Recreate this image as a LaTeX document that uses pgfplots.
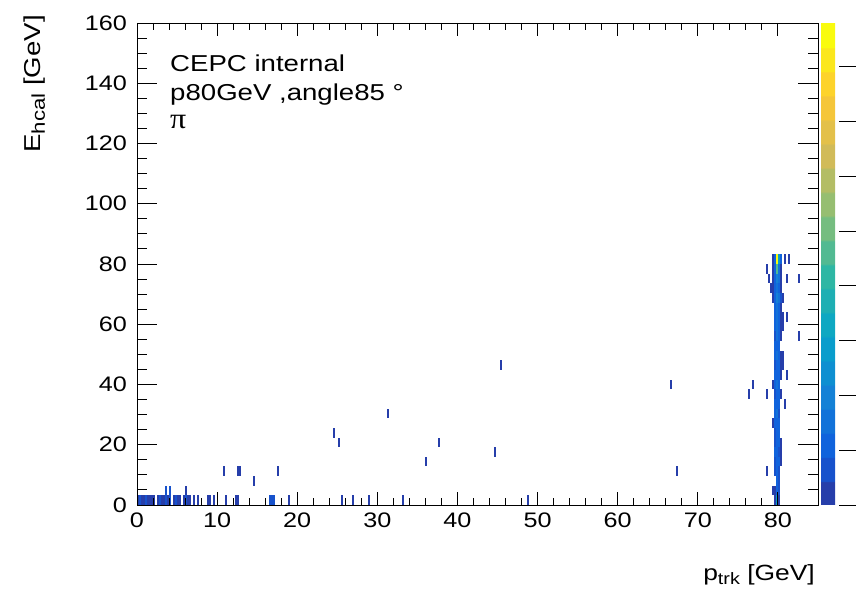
\documentclass[border=0pt]{standalone}
\usepackage{pgfplots}
\pgfplotsset{compat=1.18}
\usepackage{fontspec}
\setmainfont{Liberation Sans}[FakeStretch=1.2]
\newfontfamily\serifpi{Liberation Serif}[FakeStretch=1.1]
\newcommand{\sub}[1]{\raisebox{-0.4ex}{\fontsize{16.5}{20}\selectfont #1}}
\newcommand{\subb}[1]{\raisebox{-0.4ex}{\fontsize{18.5}{20}\selectfont #1}}
\pgfdeclareplotmark{bin}{\pgfpathrectangle{\pgfqpoint{-1pt}{-4.82pt}}{\pgfqpoint{2pt}{9.64pt}}\pgfusepathqfill}
\begin{document}
\begin{tikzpicture}
\useasboundingbox (0,0) rectangle (856pt,595pt);
\begin{axis}[
  at={(137pt,90pt)}, anchor=south west,
  scale only axis, width=681pt, height=482pt,
  xmin=0, xmax=85, ymin=0, ymax=160,
  xtick=\empty, ytick={0,20,...,160},
  minor y tick num=3,
  tick align=inside,
  major tick length=20pt, minor tick length=10pt,
  tick style={black, line width=0.9pt},
  axis line style={black, line width=0.9pt},
  axis on top,
  /pgf/number format/assume math mode=true,
  tick label style={font=\fontsize{21}{25}\selectfont},
  every y tick label/.style={anchor=east, inner sep=0pt},
  yticklabel shift=10pt,
  ylabel={E\subb{hcal} [GeV]},
  every axis y label/.style={at={(axis description cs:-0.1424,1.0166)}, anchor=base east, rotate=90, inner sep=0pt, font=\fontsize{23}{26}\selectfont},
  colormap={rootbird}{
    rgb(0pt)=(0.1486,0.2438,0.6649) rgb(9.5pt)=(0.1486,0.2438,0.6649)
    rgb(10pt)=(0.0890,0.3212,0.8006) rgb(19.5pt)=(0.0890,0.3212,0.8006)
    rgb(20pt)=(0.0630,0.3887,0.8624) rgb(29.5pt)=(0.0630,0.3887,0.8624)
    rgb(30pt)=(0.0705,0.4464,0.8505) rgb(39.5pt)=(0.0705,0.4464,0.8505)
    rgb(40pt)=(0.0780,0.5041,0.8385) rgb(49.5pt)=(0.0780,0.5041,0.8385)
    rgb(50pt)=(0.0561,0.5592,0.8197) rgb(59.5pt)=(0.0561,0.5592,0.8197)
    rgb(60pt)=(0.0342,0.6143,0.8008) rgb(69.5pt)=(0.0342,0.6143,0.8008)
    rgb(70pt)=(0.0546,0.6571,0.7616) rgb(79.5pt)=(0.0546,0.6571,0.7616)
    rgb(80pt)=(0.1174,0.6874,0.7021) rgb(89.5pt)=(0.1174,0.6874,0.7021)
    rgb(90pt)=(0.1802,0.7178,0.6425) rgb(99.5pt)=(0.1802,0.7178,0.6425)
    rgb(100pt)=(0.3202,0.7304,0.5720) rgb(109.5pt)=(0.3202,0.7304,0.5720)
    rgb(110pt)=(0.4601,0.7429,0.5015) rgb(119.5pt)=(0.4601,0.7429,0.5015)
    rgb(120pt)=(0.5878,0.7459,0.4429) rgb(129.5pt)=(0.5878,0.7459,0.4429)
    rgb(130pt)=(0.7032,0.7394,0.3964) rgb(139.5pt)=(0.7032,0.7394,0.3964)
    rgb(140pt)=(0.8186,0.7328,0.3499) rgb(149.5pt)=(0.8186,0.7328,0.3499)
    rgb(150pt)=(0.8894,0.7542,0.2887) rgb(159.5pt)=(0.8894,0.7542,0.2887)
    rgb(160pt)=(0.9602,0.7755,0.2274) rgb(169.5pt)=(0.9602,0.7755,0.2274)
    rgb(170pt)=(0.9918,0.8256,0.1682) rgb(179.5pt)=(0.9918,0.8256,0.1682)
    rgb(180pt)=(0.9841,0.9044,0.1111) rgb(189.5pt)=(0.9841,0.9044,0.1111)
    rgb(190pt)=(0.9764,0.9832,0.0539) rgb(200pt)=(0.9764,0.9832,0.0539)
  },
  point meta min=0, point meta max=44,
  colorbar,
  colorbar shift/.style={xshift=3pt},
  colorbar style={
    at={(parent axis.north east)}, anchor=north west,
    width=35pt,
    ytick={0,5,...,40}, yticklabels={},
    ytick pos=right, tick align=inside,
    major tick length=17pt,
    tick style={black, line width=0.9pt},
    axis line style={draw=none},
  },
]
\addplot[scatter, only marks, mark=bin, point meta=explicit] table[meta=c] {
x y c
45.375 46.4 1
31.375 30.4 1
24.625 24.0 1
25.25 20.8 1
37.75 20.8 1
36.125 14.4 1
44.625 17.6 1
10.875 11.2 1
12.625 11.2 2
12.875 11.2 1
17.625 11.2 1
14.625 8.0 1
66.625 40.0 1
76.875 40.0 1
76.375 36.8 1
78.625 36.8 1
67.375 11.2 1
78.625 11.2 1
80.875 33.6 1
81.125 43.2 1
82.625 75.2 1
82.625 56.0 1
81.125 62.4 1
78.625 78.4 1
78.875 75.2 1
81.125 75.2 1
80.875 81.6 1
81.375 81.6 1
79.375 81.6 2
79.625 81.6 6
79.875 81.6 43
80.125 81.6 14
80.375 81.6 5
79.375 78.4 2
79.625 78.4 5
79.875 78.4 22
80.125 78.4 8
80.375 78.4 2
79.375 75.2 1
79.625 75.2 6
79.875 75.2 9
80.125 75.2 7
80.375 75.2 2
79.125 72.0 1
79.375 72.0 2
79.625 72.0 6
79.875 72.0 8
80.125 72.0 6
80.375 72.0 2
79.375 68.8 2
79.625 68.8 5
79.875 68.8 9
80.125 68.8 7
80.375 68.8 3
80.625 68.8 1
79.625 65.6 5
79.875 65.6 8
80.125 65.6 6
80.375 65.6 2
79.625 62.4 6
79.875 62.4 7
80.125 62.4 5
80.375 62.4 2
80.625 62.4 2
79.625 59.2 5
79.875 59.2 8
80.125 59.2 6
80.375 59.2 2
80.625 59.2 1
79.625 56.0 4
79.875 56.0 7
80.125 56.0 6
80.375 56.0 2
79.625 52.8 5
79.875 52.8 6
80.125 52.8 5
79.625 49.6 5
79.875 49.6 7
80.125 49.6 5
80.375 49.6 2
80.625 49.6 1
79.625 46.4 4
79.875 46.4 6
80.125 46.4 6
80.375 46.4 2
80.625 46.4 1
79.625 43.2 5
79.875 43.2 6
80.125 43.2 5
80.375 43.2 1
79.375 40.0 1
79.625 40.0 5
79.875 40.0 7
80.125 40.0 5
79.625 36.8 4
79.875 36.8 6
80.125 36.8 5
80.375 36.8 1
79.625 33.6 5
79.875 33.6 6
80.125 33.6 5
79.625 30.4 5
79.875 30.4 7
80.125 30.4 4
79.375 27.2 1
79.625 27.2 5
79.875 27.2 6
80.125 27.2 5
79.625 24.0 3
79.875 24.0 6
80.125 24.0 5
79.625 20.8 4
79.875 20.8 6
80.125 20.8 5
80.375 20.8 2
79.625 17.6 5
79.875 17.6 6
80.125 17.6 4
80.375 17.6 1
79.625 14.4 4
79.875 14.4 5
80.125 14.4 5
80.375 14.4 1
79.625 11.2 4
79.875 11.2 6
80.125 11.2 4
79.875 8.0 5
80.125 8.0 4
79.375 4.8 1
79.625 4.8 2
79.875 4.8 5
80.125 4.8 4
79.625 1.6 2
79.875 1.6 14
80.125 1.6 1
3.625 4.8 3
4.125 4.8 3
6.125 4.8 1
0.125 1.6 2
0.375 1.6 3
0.625 1.6 1
0.875 1.6 2
1.125 1.6 3
1.375 1.6 2
1.625 1.6 1
1.875 1.6 2
2.125 1.6 1
2.625 1.6 2
2.875 1.6 3
3.125 1.6 2
3.375 1.6 1
3.625 1.6 3
3.875 1.6 2
4.125 1.6 3
4.625 1.6 2
4.875 1.6 3
5.125 1.6 2
5.375 1.6 1
5.875 1.6 2
6.125 1.6 3
6.375 1.6 1
6.625 1.6 2
7.125 1.6 1
7.625 1.6 1
8.875 1.6 2
9.125 1.6 1
9.625 1.6 1
11.125 1.6 1
12.375 1.6 1
12.625 1.6 2
16.625 1.6 3
16.875 1.6 3
17.125 1.6 3
19.0 1.6 1
25.625 1.6 1
27.0 1.6 1
29.0 1.6 1
33.25 1.6 1
48.75 1.6 1
};
\node[anchor=base west, inner sep=0pt, font=\fontsize{23}{28}\selectfont] at (rel axis cs:0.0485,0.900) {CEPC internal};
\node[anchor=base west, inner sep=0pt, font=\fontsize{23}{28}\selectfont] at (rel axis cs:0.0485,0.840) {p80GeV ,angle85 °};
\node[anchor=base west, inner sep=0pt, font=\fontsize{29}{32}\serifpi] at (rel axis cs:0.0485,0.782) {π};
\end{axis}
\begin{axis}[
  at={(137pt,90pt)}, anchor=south west,
  scale only axis, width=681pt, height=482pt,
  xmin=0, xmax=85, ymin=0, ymax=160,
  xtick={0,10,...,80}, ytick=\empty,
  minor x tick num=4,
  tick align=inside,
  major tick length=13pt, minor tick length=7pt,
  tick style={black, line width=0.9pt},
  axis line style={draw=none},
  /pgf/number format/assume math mode=true,
  tick label style={font=\fontsize{21}{25}\selectfont},
  every x tick label/.style={anchor=north, inner sep=0pt},
  xticklabel shift=8pt,
  xlabel={p\sub{trk} [GeV]},
  every axis x label/.style={at={(axis description cs:0.9956,-0.1556)}, anchor=base east, inner sep=0pt, font=\fontsize{22}{26}\selectfont},
]
\end{axis}
\end{tikzpicture}
\end{document}
